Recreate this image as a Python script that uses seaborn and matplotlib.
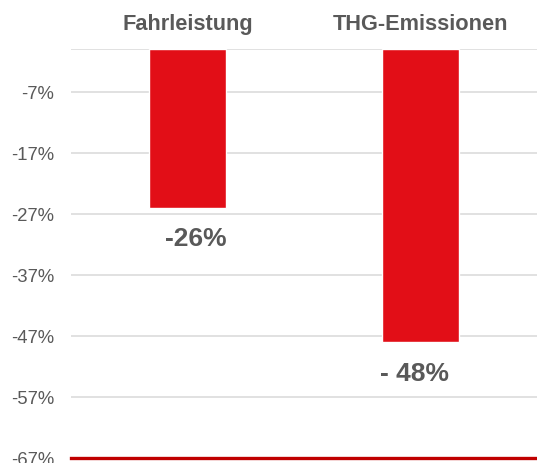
import matplotlib
matplotlib.use("Agg")
import matplotlib.pyplot as plt
import seaborn as sns
import pandas as pd

categories = ["Fahrleistung", "THG-Emissionen"]
values = [-26, -48]
value_labels = ["-26%", "- 48%"]
ytick_values = [0, -7, -17, -27, -37, -47, -57, -67]
ytick_labels = ["", "-7%", "-17%", "-27%", "-37%", "-47%", "-57%", "-67%"]

sns.set_theme(style="white")
plt.rcParams['font.family'] = ['Liberation Sans', 'DejaVu Sans']

df = pd.DataFrame({"cat": categories, "val": values})

fig = plt.figure(figsize=(5.37, 4.64), dpi=100)
ax = fig.add_axes([0.132, 0.0108, 0.868, 0.8815])

sns.barplot(data=df, x="cat", y="val", color="#E20E17", width=0.333,
            saturation=1, ax=ax, zorder=3)

ax.set_ylim(-67, 0)
ax.set_xlim(-0.5, 1.5)
ax.set_yticks(ytick_values)
ax.set_yticklabels(ytick_labels)
ax.yaxis.grid(True, color="#D9D9D9", linewidth=1.1, zorder=0)
ax.xaxis.grid(False)
ax.set_axisbelow(True)

ax.xaxis.tick_top()
ax.tick_params(axis="x", which="both", length=0, pad=11, labelsize=15.7,
               labelcolor="#595959")
for t in ax.get_xticklabels():
    t.set_fontweight("bold")
ax.tick_params(axis="y", length=0, pad=12, labelsize=13.3, labelcolor="#595959")

ax.set_xlabel("")
ax.set_ylabel("")

for side in ["top", "left", "right"]:
    ax.spines[side].set_visible(False)
ax.spines["bottom"].set_color("#C00000")
ax.spines["bottom"].set_linewidth(2.4)

offsets = [6, -4]
for i, (v, lab) in enumerate(zip(values, value_labels)):
    ax.annotate(lab, xy=(i, v), xytext=(offsets[i], -22), textcoords="offset points",
                ha="center", va="center", fontsize=19, fontweight="bold",
                color="#595959")

fig.savefig("out.png", dpi=100)
